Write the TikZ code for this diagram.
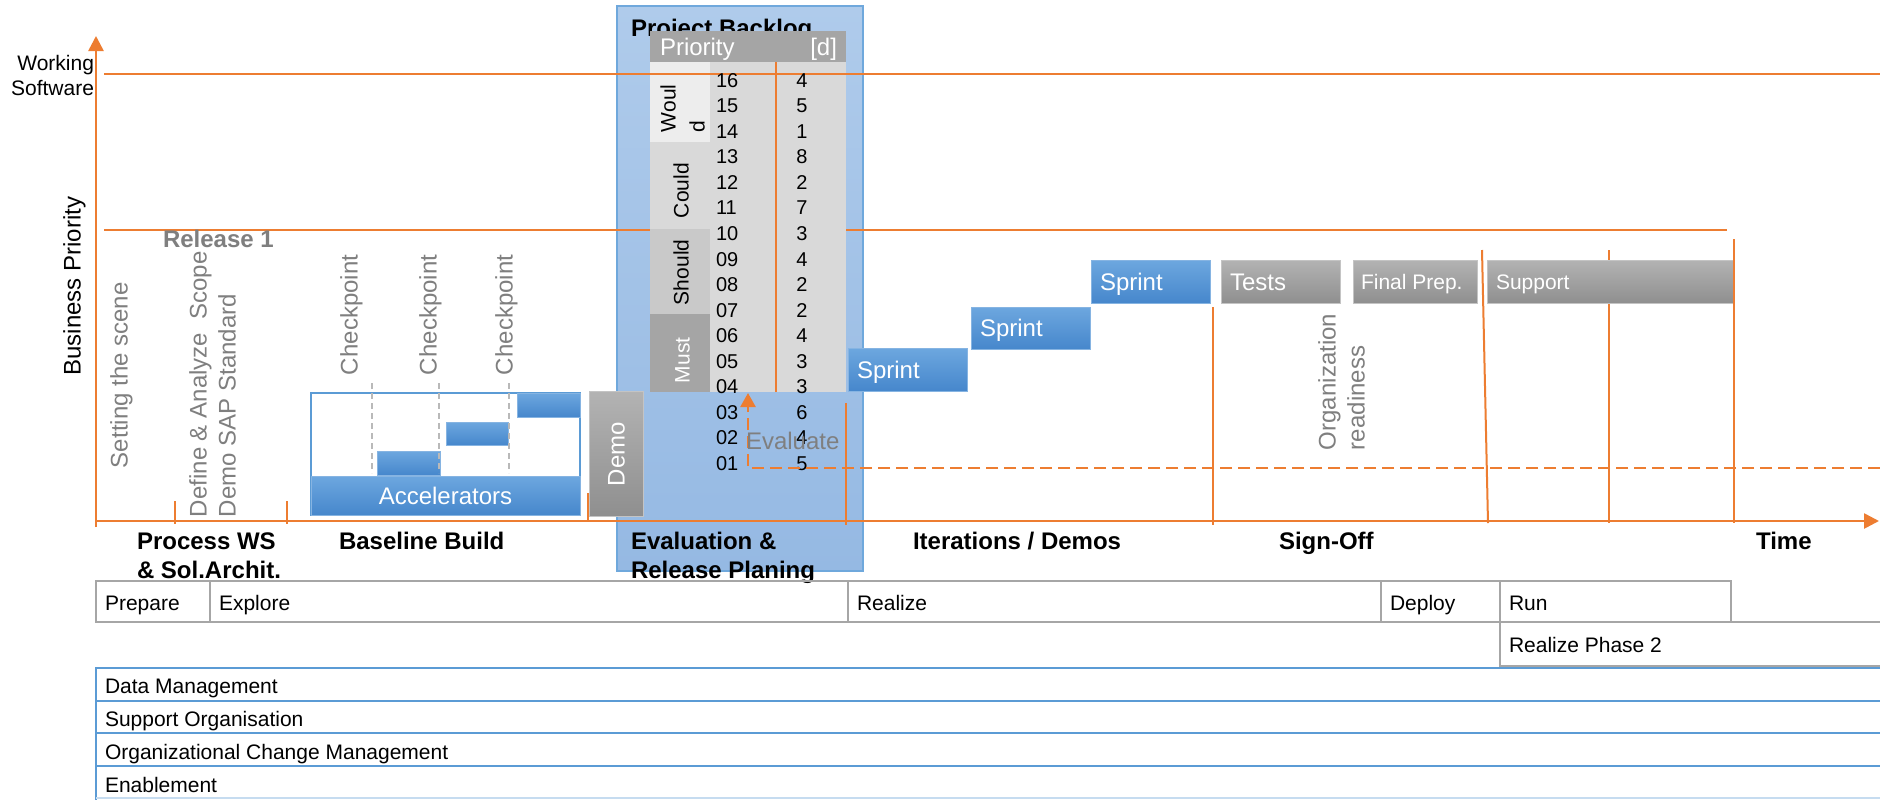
\documentclass[tikz,border=0pt]{standalone}
\usepackage{fontspec}
\setmainfont{Liberation Sans}
\usetikzlibrary{arrows.meta}
\definecolor{orng}{HTML}{ED7D31}
\definecolor{bbord}{HTML}{6FA8DC}
\definecolor{btop}{HTML}{AFCBEB}
\definecolor{bbot}{HTML}{95B9E3}
\definecolor{stop}{HTML}{6DA7DF}
\definecolor{sbot}{HTML}{4687CC}
\definecolor{sbord}{HTML}{86B4E2}
\definecolor{gtop}{HTML}{B3B3B3}
\definecolor{gbot}{HTML}{8F8F8F}
\definecolor{gbord}{HTML}{C4C4C4}
\definecolor{gtxt}{HTML}{7F7F7F}
\definecolor{hdr}{HTML}{A5A5A5}
\definecolor{tbody}{HTML}{D9D9D9}
\definecolor{twould}{HTML}{EDEDED}
\definecolor{tshould}{HTML}{C9C9C9}
\definecolor{rowgray}{HTML}{A6A6A6}
\definecolor{rowblue}{HTML}{5B9BD5}
\begin{document}
\begin{tikzpicture}[x=0.5pt,y=-0.5pt,
  fA/.style={font=\fontsize{12}{14.4}\selectfont},
  fB/.style={font=\fontsize{10.5}{12.6}\selectfont},
  fN/.style={font=\fontsize{10}{12}\selectfont},
  fBold/.style={font=\fontsize{12}{14.4}\selectfont\bfseries},
  capA/.style={text height=8.6pt,text depth=0pt},
  capB/.style={text height=7.5pt,text depth=0pt},
  capN/.style={text height=7.2pt,text depth=0pt},
  txt/.style={inner sep=0pt,outer sep=0pt},
  thinor/.style={draw=orng,line width=1pt},
  axisor/.style={draw=orng,line width=1.3pt,-{Triangle[length=7.5pt,width=7.5pt]}},
  dashor/.style={draw=orng,line width=1.25pt,dash pattern=on 6pt off 3pt},
  bluebar/.style={draw=sbord,line width=0.5pt,top color=stop,bottom color=sbot},
  graybar/.style={draw=gbord,line width=0.5pt,top color=gtop,bottom color=gbot},
  grayrot/.style={txt,fA,capA,gtxt,rotate=90,anchor=west},
  catrot/.style={txt,fB,capB,rotate=90,anchor=west},
  boldlab/.style={txt,fBold,capA,anchor=west},
  rowtxt/.style={txt,fB,capB,anchor=west},
  cpdash/.style={draw=gray!55,line width=0.6pt,dash pattern=on 3pt off 2pt},
  rowline/.style={draw=rowgray,line width=1pt},
  blueline/.style={draw=rowblue,line width=1.25pt}
]
\useasboundingbox (0,0) rectangle (1880,799);
\clip (0,0) rectangle (1880,799);
\fill[white] (0,0) rectangle (1880,799);

% Project backlog area
\path[draw=bbord,line width=0.75pt,top color=btop,bottom color=bbot] (617,6) rectangle (863,571);
\node[txt,fBold,capA,anchor=base west] (pbt) at (631,36) {Project Backlog};

% release line (behind table)
\draw[thinor] (104,230) -- (1727,230);

% axes
\coordinate (origy) at (96,527);
\coordinate (topy) at (96,36);
\coordinate (origx) at (96,521);
\coordinate (endx) at (1879,521);
\draw[axisor] (origy) -- (topy);
\draw[axisor] (origx) -- (endx);

% backlog table
\fill[hdr] (650,31) rectangle (846,62);
\fill[tbody] (650,62) rectangle (846,392);
\fill[twould] (650,62) rectangle (710,142);
\fill[tshould] (650,229) rectangle (710,314);
\fill[hdr] (650,314) rectangle (710,392);
\node[txt,fA,capA,anchor=west,white] (hp) at (660,47) {Priority};
\node[txt,fA,capA,anchor=east,white] (hd) at (837,47) {[d]};
\node[catrot] (cw1) at (668,132) {Woul};
\node[catrot] (cw2) at (697,132) {d};
\node[catrot] (cc) at (681,218) {Could};
\node[catrot] (cs) at (681,305) {Should};
\node[catrot,white] (cm) at (682,383) {Must};

% working software line (over table)
\draw[thinor] (104,74) -- (1880,74);
\draw[thinor] (776,62) -- (776,392);

\foreach \n/\d [count=\i from 0] in {16/4,15/5,14/1,13/8,12/2,11/7,10/3,09/4,08/2,07/2,06/4,05/3,04/3,03/6,02/4,01/5}{
  \node[txt,fN,capN,anchor=west] (n\n) at (716,{80+25.55*\i}) {\n};
  \node[txt,fN,capN] (d\n) at (802,{80+25.55*\i}) {\d};
}

% vertical separators and ticks
\draw[thinor] (175,501) -- (175,524);
\draw[thinor] (287,501) -- (287,524);
\draw[thinor] (588,493) -- (588,521);
\draw[thinor] (846,403) -- (846,525);
\draw[thinor] (1213,307) -- (1213,525);
\draw[thinor] (1482,250) -- (1488,523);
\draw[thinor] (1609,250) -- (1609,523);

% accelerators
\draw[draw=rowblue,line width=1pt,fill=white] (311,393) rectangle (580,515);
\path[bluebar] (311,476) rectangle (580,515);
\path[bluebar] (377,451) rectangle (440,475);
\path[bluebar] (446,422) rectangle (508,445);
\path[bluebar] (517,393) rectangle (580,417);
\node[txt,fA,capA,white] (acc) at (445.5,495.5) {Accelerators};
\draw[cpdash] (372,383) -- (372,473);
\draw[cpdash] (439,383) -- (439,473);
\draw[cpdash] (509,383) -- (509,473);

% demo
\path[graybar] (589,391) rectangle (643,516);
\node[txt,fA,capA,white,rotate=90] (demo) at (616,454) {Demo};

% sprints and later phases
\path[bluebar] (848,348) rectangle (967,391);
\node[txt,fA,capA,white,anchor=west] (sp1) at (857,369.5) {Sprint};
\path[bluebar] (971,307) rectangle (1090,349);
\node[txt,fA,capA,white,anchor=west] (sp2) at (980,328) {Sprint};
\path[bluebar] (1091,260) rectangle (1210,303);
\node[txt,fA,capA,white,anchor=west] (sp3) at (1100,281.5) {Sprint};
\path[graybar] (1221,260) rectangle (1340,303);
\node[txt,fA,capA,white,anchor=west] (tests) at (1230,281.5) {Tests};
\path[graybar] (1353,260) rectangle (1477,303);
\node[txt,fB,capB,white,anchor=west] (fprep) at (1361,281.5) {Final Prep.};
\path[graybar] (1487,260) rectangle (1733,303);
\node[txt,fB,capB,white,anchor=west] (supp) at (1496,281.5) {Support};
\draw[thinor] (1734,239) -- (1734,523);

% evaluate loop
\coordinate (evr) at (1880,468);
\coordinate (evc) at (748,468);
\coordinate (evt) at (748,393);
\draw[dashor,-{Triangle[length=7pt,width=7.5pt]}] (evr) -- (evc) -- (evt);
\node[txt,fA,capA,anchor=west,gtxt] (ev) at (746,441) {Evaluate};

% axis labels
\node[txt,fB,capB,anchor=east] (ws1) at (94,63) {Working};
\node[txt,fB,capB,anchor=east] (ws2) at (94,88) {Software};
\node[txt,fA,capA,rotate=90] (bp) at (72,286) {Business Priority};
\node[txt,fBold,capA,anchor=west,gtxt] (rel) at (163,239) {Release 1};

% rotated gray labels
\node[grayrot] (sts) at (119,468) {Setting the scene};
\node[grayrot] (das) at (198,517) {Define \& Analyze\ \ Scope};
\node[grayrot] (dss) at (227,517) {Demo SAP Standard};
\node[grayrot] (cp1) at (349,375) {Checkpoint};
\node[grayrot] (cp2) at (428,375) {Checkpoint};
\node[grayrot] (cp3) at (504,375) {Checkpoint};
\node[grayrot] (org1) at (1327,450) {Organization};
\node[grayrot] (org2) at (1356,450) {readiness};

% phase labels
\node[boldlab] (pw1) at (137,541) {Process WS};
\node[boldlab] (pw2) at (137,570) {\& Sol.Archit.};
\node[boldlab] (bb) at (339,541) {Baseline Build};
\node[boldlab] (er1) at (631,541) {Evaluation \&};
\node[boldlab] (er2) at (631,570) {Release Planing};
\node[boldlab] (itd) at (913,541) {Iterations / Demos};
\node[boldlab] (so) at (1279,541) {Sign-Off};
\node[boldlab] (tm) at (1756,541) {Time};

% SAP activate phases
\draw[rowline] (96,581) rectangle (1731,622);
\draw[rowline] (210,581) -- (210,622);
\draw[rowline] (848,581) -- (848,622);
\draw[rowline] (1381,581) -- (1381,622);
\draw[rowline] (1500,581) -- (1500,622);
\draw[rowline] (1500,622) rectangle (1895,666);
\node[rowtxt] (pp) at (105,603) {Prepare};
\node[rowtxt] (ex) at (219,603) {Explore};
\node[rowtxt] (rz) at (857,603) {Realize};
\node[rowtxt] (dp) at (1390,603) {Deploy};
\node[rowtxt] (rn) at (1509,603) {Run};
\node[rowtxt] (rp2) at (1509,645) {Realize Phase 2};

% workstreams
\draw[blueline] (96,668) rectangle (1895,701);
\draw[blueline] (96,701) rectangle (1895,733);
\draw[blueline] (96,733) rectangle (1895,766);
\draw[blueline] (96,766) -- (1895,766);
\draw[blueline] (96,766) -- (96,805);
\draw[draw=rowblue!35,line width=1.25pt] (96,798) -- (1895,798);
\node[rowtxt] (dm) at (105,686) {Data Management};
\node[rowtxt] (so2) at (105,719) {Support Organisation};
\node[rowtxt] (ocm) at (105,752) {Organizational Change Management};
\node[rowtxt] (en) at (105,785) {Enablement};
\end{tikzpicture}
\end{document}
